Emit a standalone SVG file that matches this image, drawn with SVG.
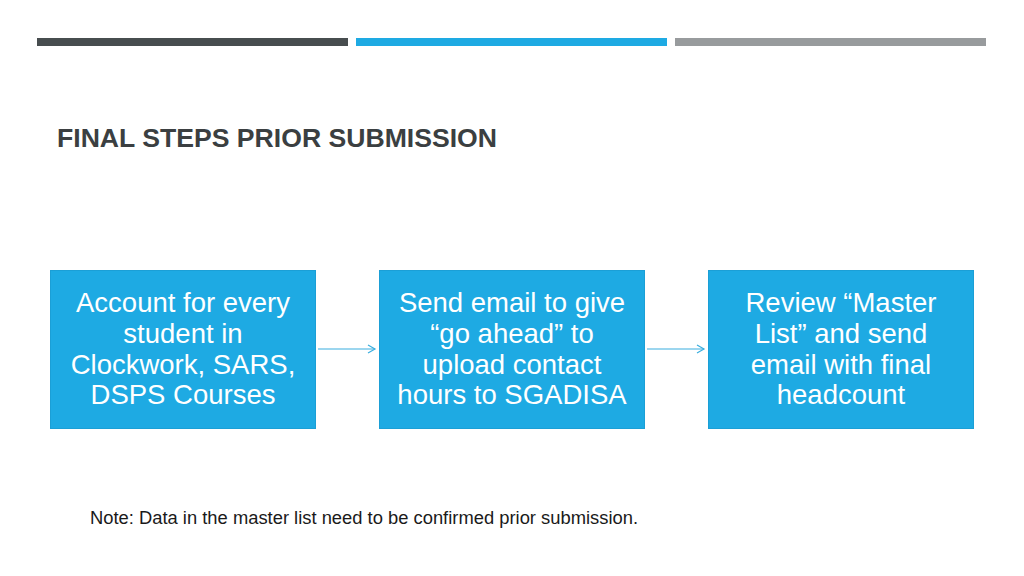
<svg xmlns="http://www.w3.org/2000/svg" width="1024" height="576" viewBox="0 0 1024 576">
<defs>
<marker id="ah" markerWidth="10" markerHeight="10" refX="8" refY="5" orient="auto" markerUnits="userSpaceOnUse">
<path d="M1,1 L8,5 L1,9" fill="none" stroke="#3aaedf" stroke-width="1.2"/>
</marker>
</defs>
<style>
.box{fill:#1eaae3;stroke:#1b9fd6;stroke-width:1}
.bt{font-family:"Liberation Sans",Arial,sans-serif;font-size:27.5px;fill:#ffffff;text-anchor:middle}
.conn{stroke:#3aaedf;stroke-width:1.2;fill:none}
</style>
<rect width="1024" height="576" fill="#ffffff"/>
<rect x="37" y="38" width="311" height="8" fill="#474d4f"/>
<rect x="356" y="38" width="311" height="8" fill="#1eaae3"/>
<rect x="675" y="38" width="311" height="8" fill="#989b9d"/>
<text x="57" y="147" font-family="Liberation Sans,Arial,sans-serif" font-weight="bold" font-size="26" fill="#3b3f41" textLength="440" lengthAdjust="spacingAndGlyphs">FINAL STEPS PRIOR SUBMISSION</text>
<g id="node1">
<rect class="box" x="50.5" y="270.5" width="265" height="158"/>
<text class="bt" x="183" y="312">Account for every</text>
<text class="bt" x="183" y="343">student in</text>
<text class="bt" x="183" y="374">Clockwork, SARS,</text>
<text class="bt" x="183" y="404">DSPS Courses</text>
</g>
<g id="node2">
<rect class="box" x="379.5" y="270.5" width="265" height="158"/>
<text class="bt" x="512" y="312">Send email to give</text>
<text class="bt" x="512" y="343">“go ahead” to</text>
<text class="bt" x="512" y="374">upload contact</text>
<text class="bt" x="512" y="404">hours to SGADISA</text>
</g>
<g id="node3">
<rect class="box" x="708.5" y="270.5" width="265" height="158"/>
<text class="bt" x="841" y="312">Review “Master</text>
<text class="bt" x="841" y="343">List” and send</text>
<text class="bt" x="841" y="374">email with final</text>
<text class="bt" x="841" y="404">headcount</text>
</g>
<g id="connectors">
<line class="conn" x1="318" y1="349" x2="375" y2="349" marker-end="url(#ah)"/>
<line class="conn" x1="647" y1="349" x2="704" y2="349" marker-end="url(#ah)"/>
</g>
<text x="90" y="524" font-family="Liberation Sans,Arial,sans-serif" font-size="17.5" fill="#1a1a1a" textLength="548" lengthAdjust="spacingAndGlyphs">Note: Data in the master list need to be confirmed prior submission.</text>
</svg>
